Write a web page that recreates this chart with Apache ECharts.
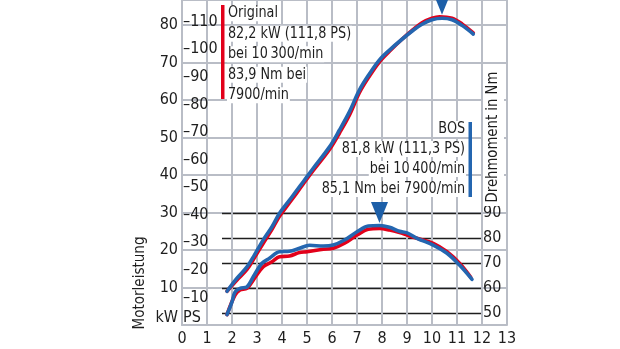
<!DOCTYPE html>
<html>
<head>
<meta charset="utf-8">
<script src="https://cdn.jsdelivr.net/npm/echarts@6/dist/echarts.min.js"></script>
<style>
  html, body { margin: 0; padding: 0; background: #fff; }
  #chart { width: 620px; height: 349px; }
</style>
</head>
<body>
<div id="chart"></div>
<script>
// Engine speed in 1000/min
const rpmTicks = [0, 1, 2, 3, 4, 5, 6, 7, 8, 9, 10, 11, 12, 13];

// Power (kW) – BOS
const powerBosRpm = [1.8, 2.2, 2.6, 2.9, 3.25, 3.6, 3.9, 4.3, 4.6, 4.85, 5.25, 5.9, 6.3, 6.7, 7.1, 7.5, 7.9, 8.3, 8.8, 9.25, 9.6, 10.0, 10.4, 10.8, 11.2, 11.65];
const powerBosKw  = [9.0, 12.5, 15.5, 18.7, 22.7, 26.2, 29.8, 33.3, 36.0, 38.2, 41.8, 47.5, 52.0, 56.9, 62.7, 67.0, 70.7, 73.3, 76.2, 78.6, 80.2, 81.4, 81.8, 81.4, 79.9, 77.6];

// Power (kW) – Original
const powerOrigRpm = [1.8, 2.2, 2.6, 2.9, 3.25, 3.6, 3.9, 4.3, 4.6, 4.85, 5.25, 5.9, 6.3, 6.7, 7.1, 7.5, 7.9, 8.3, 8.8, 9.25, 9.6, 10.0, 10.3, 10.8, 11.2, 11.65];
const powerOrigKw  = [9.0, 12.0, 14.8, 18.0, 21.8, 25.5, 29.0, 32.6, 35.3, 37.6, 41.2, 46.8, 51.2, 56.0, 62.0, 66.4, 70.2, 73.0, 76.2, 78.8, 80.6, 81.8, 82.2, 81.8, 80.3, 77.9];

// Torque (Nm) – BOS
const torqueBosRpm = [1.8, 2.0, 2.12, 2.32, 2.6, 2.85, 3.2, 3.5, 3.9, 4.3, 4.7, 5.1, 5.65, 6.05, 6.5, 7.0, 7.45, 7.9, 8.3, 8.7, 9.0, 9.4, 10.05, 10.6, 11.1, 11.6];
const torqueBosNm  = [49.5, 54.6, 58.5, 60.0, 60.6, 64.6, 70.0, 72.0, 74.6, 74.8, 76.0, 77.2, 76.9, 77.3, 79.3, 82.6, 84.9, 85.1, 84.4, 82.8, 82.2, 80.0, 77.3, 74.0, 69.3, 63.6];

// Torque (Nm) – Original
const torqueOrigRpm = [1.8, 2.12, 2.32, 2.6, 2.85, 3.25, 3.6, 3.9, 4.3, 4.7, 5.0, 5.65, 6.05, 6.5, 7.0, 7.45, 7.9, 8.3, 8.7, 9.0, 9.4, 10.05, 10.6, 11.1, 11.55];
const torqueOrigNm  = [49.5, 57.3, 59.3, 60.0, 63.3, 68.6, 70.6, 72.6, 72.9, 74.3, 74.6, 75.6, 76.0, 78.0, 81.3, 83.6, 83.9, 83.3, 82.3, 81.3, 80.0, 78.0, 74.6, 70.0, 64.4];

// Peak values
const peakBos  = { kw: 81.8, ps: 111.3, kwRpm: 10.4, nm: 85.1, nmRpm: 7.9 };
const peakOrig = { kw: 82.2, ps: 111.8, kwRpm: 10.3, nm: 83.9, nmRpm: 7.9 };

const PS_PER_KW = 1 / 0.73549875;
const KW_MAX = 86.667;

const FONT = "'DejaVu Sans Condensed', 'Liberation Sans Narrow', 'Roboto', sans-serif";
const RED = '#e2001a';
const BLUE = '#2466b0';
const GRID_GRAY = '#b9bdc6';
const INK = '#1e1e1e';

const zip = (xs, ys) => xs.map((x, i) => [x, ys[i]]);
const fmtDe = v => String(v).replace('.', ',');

const chart = echarts.init(document.getElementById('chart'), null, { renderer: 'canvas' });

const origLines = [
  'Original',
  fmtDe(peakOrig.kw) + ' kW (' + fmtDe(peakOrig.ps) + ' PS)',
  'bei 10\u2009300/min',
  fmtDe(peakOrig.nm) + ' Nm bei',
  '7900/min'
];
const bosLines = [
  'BOS',
  fmtDe(peakBos.kw) + ' kW (' + fmtDe(peakBos.ps) + ' PS)',
  'bei 10\u2009400/min',
  fmtDe(peakBos.nm) + ' Nm bei 7900/min'
];
const asRich = lines => lines.map(l => '{t|' + l + '}').join('\n');

const lineSeries = (name, data, color, xi, yi, z) => ({
  name, type: 'line', data, xAxisIndex: xi, yAxisIndex: yi,
  smooth: 0.35, showSymbol: false, clip: false, z,
  lineStyle: { color, width: 3.6, cap: 'round', join: 'round' }
});

const triangleMark = (coord, offsetY) => ({
  symbol: 'triangle', symbolRotate: 180, symbolSize: [17, 21],
  symbolOffset: [0, offsetY],
  itemStyle: { color: '#1d5fa8' },
  label: { show: false },
  data: [{ coord }]
});

const labelFont = { color: INK, fontSize: 16, fontFamily: FONT };
const unitRich = { u: { fontSize: 16, fontFamily: FONT, color: INK, padding: [0, 0, 14, 0] } };

chart.setOption({
  animation: false,
  backgroundColor: '#fff',
  textStyle: { fontFamily: FONT },
  grid: [
    { left: 182, right: 113, top: 0, bottom: 24, containLabel: false },
    { left: 222, right: 138, top: 213.3, bottom: 35.7, containLabel: false }
  ],
  xAxis: [
    {
      gridIndex: 0, type: 'value', min: rpmTicks[0], max: rpmTicks[rpmTicks.length - 1], interval: 1,
      axisLine: { lineStyle: { color: GRID_GRAY, width: 2 } },
      axisTick: { show: false },
      axisLabel: Object.assign({ margin: 6 }, labelFont),
      splitLine: { lineStyle: { color: GRID_GRAY, width: 2 } }
    },
    { gridIndex: 1, type: 'value', min: 1.6, max: 12, show: false, splitLine: { show: false } }
  ],
  yAxis: [
    {
      // kW
      gridIndex: 0, type: 'value', position: 'left', min: 0, max: KW_MAX, interval: 10,
      axisLine: { show: true, lineStyle: { color: GRID_GRAY, width: 2 } },
      axisTick: { show: false },
      axisLabel: Object.assign({
        margin: 4, showMaxLabel: false,
        formatter: v => v === 0 ? '{u|kW}' : (v > 85 ? '' : String(v)),
        rich: unitRich
      }, labelFont),
      splitLine: { lineStyle: { color: GRID_GRAY, width: 2 } }
    },
    {
      // PS
      gridIndex: 0, type: 'value', position: 'left', min: 0, max: KW_MAX * PS_PER_KW, interval: 10,
      axisLine: { show: false }, axisTick: { show: false }, splitLine: { show: false },
      axisLabel: Object.assign({
        inside: true, align: 'left', margin: 1, showMaxLabel: false,
        formatter: v => v === 0 ? '{u|PS}' : (v > 115 ? '' : '\u2013' + v),
        rich: unitRich
      }, labelFont)
    },
    {
      // Nm
      gridIndex: 1, type: 'value', position: 'right', min: 50, max: 90, interval: 10,
      axisLine: { show: false }, axisTick: { show: false },
      axisLabel: Object.assign({ margin: 1 }, labelFont),
      splitLine: { lineStyle: { color: INK, width: 1.4 } }
    }
  ],
  series: [
    lineSeries('Leistung Original', zip(powerOrigRpm, powerOrigKw), RED, 0, 0, 3),
    Object.assign(lineSeries('Leistung BOS', zip(powerBosRpm, powerBosKw), BLUE, 0, 0, 4), {
      markPoint: triangleMark([peakBos.kwRpm, peakBos.kw], -14)
    }),
    lineSeries('Drehmoment Original', zip(torqueOrigRpm, torqueOrigNm), RED, 1, 2, 3),
    Object.assign(lineSeries('Drehmoment BOS', zip(torqueBosRpm, torqueBosNm), BLUE, 1, 2, 4), {
      markPoint: triangleMark([peakBos.nmRpm, peakBos.nm], -13)
    })
  ],
  graphic: [
    // Original legend block
    { type: 'rect', x: 221, y: 5, shape: { width: 3.5, height: 94 }, style: { fill: RED }, z: 10 },
    {
      type: 'text', x: 227, y: 3, scaleX: 0.89, z: 10,
      style: {
        text: asRich(origLines), font: '16px ' + FONT, fill: INK,
        rich: { t: { fontSize: 16, fontFamily: FONT, fill: INK, lineHeight: 20.5, backgroundColor: '#fff', padding: [0, 1] } }
      }
    },
    // BOS legend block
    { type: 'rect', x: 468.5, y: 122, shape: { width: 3.5, height: 75 }, style: { fill: BLUE }, z: 10 },
    {
      type: 'text', x: 466, y: 119, scaleX: 0.89, z: 10,
      style: {
        text: asRich(bosLines), font: '16px ' + FONT, fill: INK, align: 'right',
        rich: { t: { fontSize: 16, fontFamily: FONT, fill: INK, lineHeight: 20, backgroundColor: '#fff', padding: [0, 1], align: 'right' } }
      }
    },
    // Right axis title
    { type: 'rect', x: 483, y: 70, shape: { width: 21, height: 136 }, style: { fill: '#fff' }, z: 9 },
    {
      type: 'text', x: 493, y: 137, rotation: Math.PI / 2, scaleX: 0.92, z: 10,
      style: { text: 'Drehmoment in Nm', font: '16px ' + FONT, fill: INK, align: 'center', verticalAlign: 'middle' }
    },
    // Left axis title
    {
      type: 'text', x: 140, y: 283, rotation: Math.PI / 2, scaleX: 0.94, z: 10,
      style: { text: 'Motorleistung', font: '16px ' + FONT, fill: INK, align: 'center', verticalAlign: 'middle' }
    }
  ]
});
</script>
</body>
</html>
